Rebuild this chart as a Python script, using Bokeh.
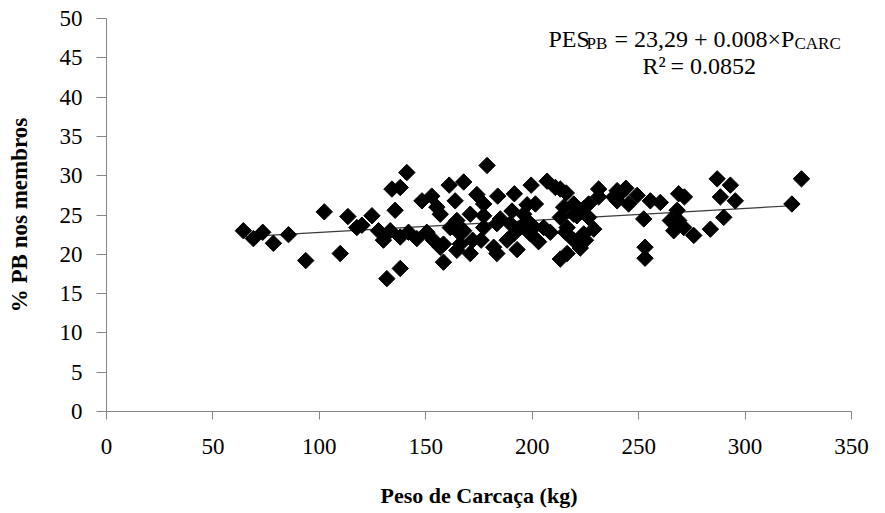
import numpy as np
from bokeh.plotting import figure
from bokeh.models import Range1d, Label, FixedTicker
from bokeh.embed import file_html
from bokeh.resources import INLINE

# ---- data ----
carcass_weight = [64.3, 69.0, 73.4, 78.4, 85.5, 93.6, 102.3, 109.8, 113.4, 117.6,
                  120.0, 124.7, 127.8, 130.1, 131.7, 133.3, 134.1, 135.6, 138.0, 138.0,
                  138.0, 141.1, 141.9, 145.8, 148.2, 150.5, 152.8, 153.6, 155.2, 156.8,
                  156.8, 158.3, 158.3, 161.0, 161.5, 163.8, 164.6, 164.6, 166.2, 166.2,
                  167.8, 167.8, 170.9, 170.9, 172.0, 174.0, 176.0, 177.2, 177.2, 177.2,
                  178.8, 183.8, 183.4, 185.0, 181.9, 183.4, 188.2, 189.7, 190.5, 191.6,
                  191.3, 192.9, 194.4, 196.0, 197.6, 199.5, 199.1, 199.1, 200.7, 201.5,
                  203.0, 205.4, 207.0, 208.5, 210.9, 213.2, 216.0, 213.2, 213.2, 216.4,
                  214.8, 215.6, 216.4, 219.5, 219.5, 219.5, 221.0, 222.6, 224.2, 224.2,
                  225.0, 226.5, 226.5, 228.9, 231.2, 231.2, 238.3, 239.9, 239.9, 241.4,
                  244.0, 245.3, 249.3, 252.4, 253.0, 253.0, 255.5, 260.2, 264.9, 266.5,
                  268.1, 268.8, 271.5, 268.8, 271.2, 275.9, 283.7, 286.9, 288.4, 290.0,
                  293.1, 295.4, 322.0, 326.5]
pb_members = [23.0, 22.0, 22.8, 21.4, 22.5, 19.2, 25.4, 20.1, 24.8, 23.4,
              23.7, 24.9, 23.0, 21.8, 16.9, 23.0, 28.3, 25.6, 28.5, 22.2,
              18.2, 30.4, 22.8, 22.0, 26.8, 22.8, 27.4, 21.8, 26.0, 25.1,
              20.9, 21.3, 19.0, 28.8, 23.4, 26.8, 24.3, 20.5, 22.6, 21.3,
              29.2, 23.0, 25.1, 20.1, 21.8, 27.6, 21.8, 26.4, 24.9, 23.4,
              31.3, 27.4, 23.9, 24.5, 20.9, 20.1, 21.8, 23.9, 25.5, 27.7,
              22.6, 20.6, 23.4, 25.1, 26.3, 28.8, 22.6, 23.9, 23.4, 26.4,
              21.6, 23.4, 29.3, 22.8, 28.5, 28.3, 27.8, 24.7, 19.4, 20.1,
              26.0, 22.8, 23.4, 25.1, 26.4, 21.8, 24.9, 20.8, 25.8, 22.6,
              21.8, 26.4, 24.7, 23.2, 28.3, 27.3, 27.3, 26.8, 28.1, 27.7,
              28.4, 26.4, 27.5, 24.5, 20.9, 19.5, 26.8, 26.6, 24.3, 23.0,
              25.6, 27.7, 27.3, 24.3, 23.4, 22.4, 23.2, 29.6, 27.3, 24.7,
              28.8, 26.8, 26.4, 29.6]
x_ticks = [0, 50, 100, 150, 200, 250, 300, 350]
y_ticks = [0, 5, 10, 15, 20, 25, 30, 35, 40, 45, 50]
trend_intercept = 21.25
trend_slope = 0.0153
trend_x = [64.3, 322.0]

equation_parts = ["PES", "PB", "= 23,29 + 0.008×P", "CARC"]
r2_parts = ["R²", "= 0.0852"]

SERIF = "Liberation Serif"

# ---- layout helpers (pixel -> data, for text placement) ----
FL, FR, FT, FB = 106, 851, 18, 411
def dx(px):
    return (px - FL) * 350.0 / (FR - FL)
def dy(py):
    return (FB - py) * 50.0 / (FB - FT)

p = figure(width=885, height=513, x_range=Range1d(0, 350), y_range=Range1d(0, 50),
           output_backend="svg", toolbar_location=None,
           min_border_left=FL, min_border_right=885 - FR,
           min_border_top=FT, min_border_bottom=513 - FB)
p.outline_line_color = None
p.background_fill_color = "white"
p.border_fill_color = "white"
p.xgrid.visible = False
p.ygrid.visible = False

for ax in (p.xaxis[0], p.yaxis[0]):
    ax.axis_line_color = "#868686"
    ax.major_tick_line_color = "#868686"
    ax.minor_tick_line_color = None
    ax.major_tick_in = 0
    ax.major_label_text_font = SERIF
    ax.major_label_text_color = "black"
    ax.axis_label_text_font = SERIF
    ax.axis_label_text_font_style = "bold"
    ax.axis_label_text_color = "black"

p.xaxis.ticker = FixedTicker(ticks=x_ticks)
p.yaxis.ticker = FixedTicker(ticks=y_ticks)
p.xaxis.major_tick_out = 8
p.yaxis.major_tick_out = 10
p.xaxis.major_label_text_font_size = "23px"
p.yaxis.major_label_text_font_size = "23px"
p.xaxis.major_label_standoff = 19
p.yaxis.major_label_standoff = 14
p.xaxis.axis_label = "Peso de Carcaça (kg)"
p.yaxis.axis_label = "% PB nos membros"
p.xaxis.axis_label_text_font_size = "22px"
p.yaxis.axis_label_text_font_size = "23px"
p.xaxis.axis_label_standoff = 26
p.yaxis.axis_label_standoff = 25

trend_y = [trend_intercept + trend_slope * v for v in trend_x]
p.line(trend_x, trend_y, line_color="#3a3a3a", line_width=1.2)
p.scatter(carcass_weight, pb_members, marker="square", size=11.6, angle=np.pi / 4,
          fill_color="black", line_color="black", line_width=1)

# equation text pieces: (left px, baseline px, size)
eq_pos = [(548, 38, 24), (586, 43, 17), (614, 38, 24), (794, 43, 17)]
for txt, (px, py, fs) in zip(equation_parts, eq_pos):
    p.add_layout(Label(x=dx(px), y=dy(py), text=txt, text_font=SERIF,
                       text_font_size=f"{fs}px", text_color="black",
                       text_align="left", text_baseline="alphabetic"))
r2_pos = [(642, 65, 24), (670, 65, 24)]
for txt, (px, py, fs) in zip(r2_parts, r2_pos):
    p.add_layout(Label(x=dx(px), y=dy(py), text=txt, text_font=SERIF,
                       text_font_size=f"{fs}px", text_color="black",
                       text_align="left", text_baseline="alphabetic"))

open("out.html", "w").write(file_html(p, INLINE))
